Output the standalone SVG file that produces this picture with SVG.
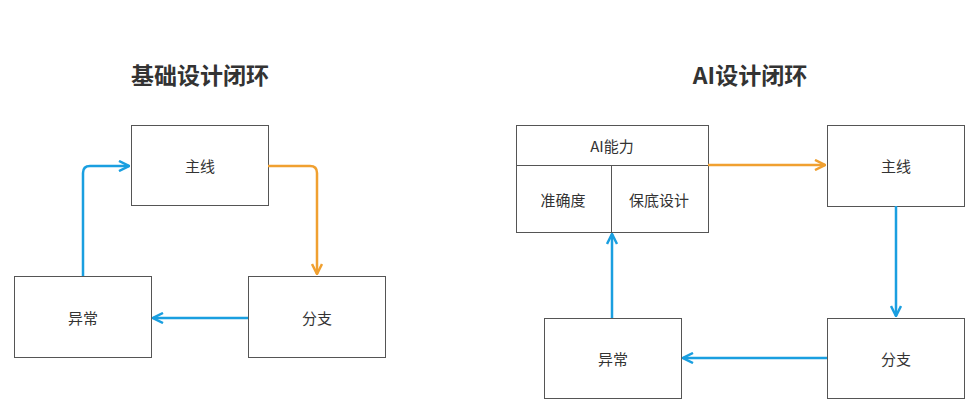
<svg xmlns="http://www.w3.org/2000/svg" width="965" height="400" viewBox="0 0 965 400">
<style>
.box{fill:#fff;stroke:#555;stroke-width:1}
.t{font-family:"Noto Sans CJK SC","Liberation Sans",sans-serif;font-size:15px;fill:#333;text-anchor:middle;dominant-baseline:central}
.h{font-family:"Noto Sans CJK SC","Liberation Sans",sans-serif;font-size:23px;font-weight:bold;fill:#333;text-anchor:middle;dominant-baseline:central}
.b{fill:none;stroke:#1a9fe0;stroke-width:2.5}
.o{fill:none;stroke:#f0a030;stroke-width:2.5}
</style>
<defs>
<marker id="ab" viewBox="0 0 10 10" refX="9" refY="5" markerWidth="5" markerHeight="5" orient="auto" markerUnits="strokeWidth"><path d="M1,1 L9,5 L1,9" fill="none" stroke="#1a9fe0" stroke-width="2"/></marker>
<marker id="ao" viewBox="0 0 10 10" refX="9" refY="5" markerWidth="5" markerHeight="5" orient="auto" markerUnits="strokeWidth"><path d="M1,1 L9,5 L1,9" fill="none" stroke="#f0a030" stroke-width="2"/></marker>
</defs>
<rect width="965" height="400" fill="#fff"/>
<text class="h" x="200" y="74">基础设计闭环</text>
<text class="h" x="750" y="74">AI设计闭环</text>
<g id="l-main"><rect class="box" x="131.5" y="125.5" width="137" height="80"/><text class="t" x="200" y="165">主线</text></g>
<g id="l-exc"><rect class="box" x="14.5" y="276.5" width="137" height="81"/><text class="t" x="83" y="317">异常</text></g>
<g id="l-br"><rect class="box" x="248.5" y="276.5" width="137" height="81"/><text class="t" x="317" y="317">分支</text></g>
<g id="r-ai"><rect class="box" x="516.5" y="125.5" width="192" height="107"/><line x1="516.5" y1="165.5" x2="708.5" y2="165.5" stroke="#555"/><line x1="611.5" y1="165.5" x2="611.5" y2="232.5" stroke="#555"/><text class="t" x="612" y="145">AI能力</text><text class="t" x="563" y="199">准确度</text><text class="t" x="659" y="199">保底设计</text></g>
<g id="r-main"><rect class="box" x="827.5" y="125.5" width="137" height="81"/><text class="t" x="896" y="165">主线</text></g>
<g id="r-br"><rect class="box" x="827.5" y="318.5" width="137" height="80"/><text class="t" x="896" y="358">分支</text></g>
<g id="r-exc"><rect class="box" x="544.5" y="318.5" width="137" height="80"/><text class="t" x="613" y="358">异常</text></g>
<g id="connectors">
<path class="o" d="M268,166 H310 Q317,166 317,173 V274" marker-end="url(#ao)"/>
<path class="b" d="M248,318 H153" marker-end="url(#ab)"/>
<path class="b" d="M83,276 V173 Q83,166 90,166 H129" marker-end="url(#ab)"/>
<path class="o" d="M708,165 H825" marker-end="url(#ao)"/>
<path class="b" d="M896,206 V316" marker-end="url(#ab)"/>
<path class="b" d="M827,358 H683" marker-end="url(#ab)"/>
<path class="b" d="M612,318 V234" marker-end="url(#ab)"/>
</g>
</svg>
